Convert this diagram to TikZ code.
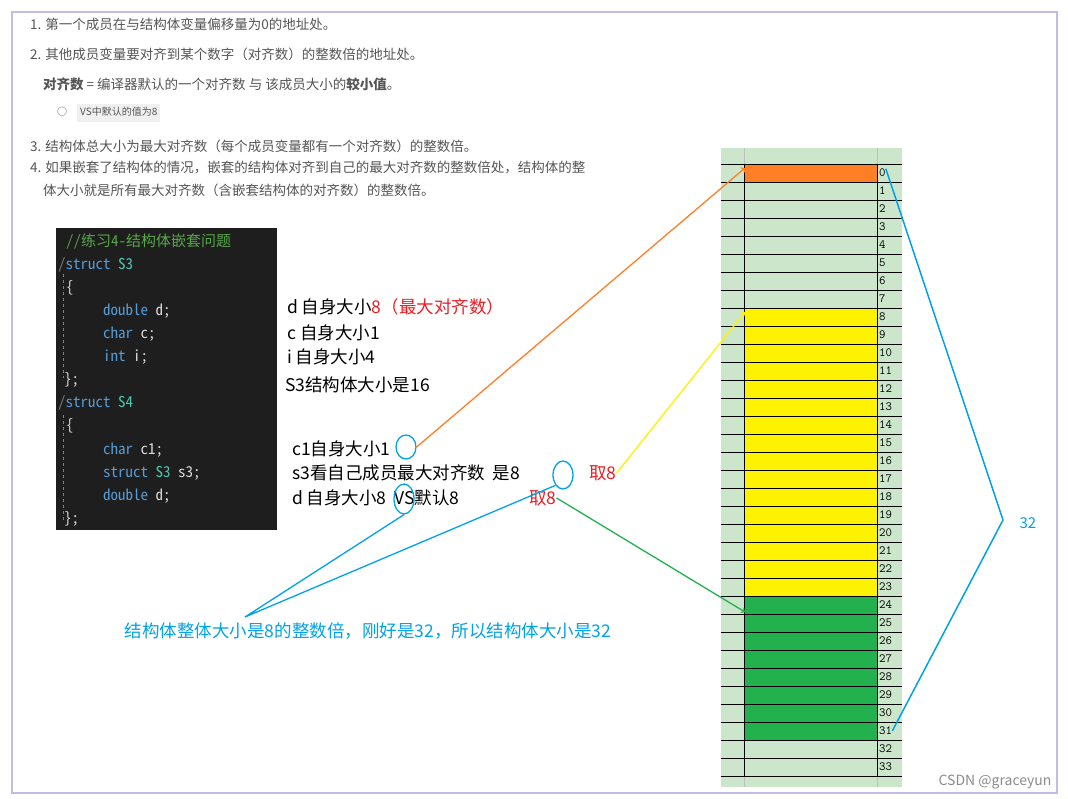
\documentclass[tikz,border=0pt]{standalone}
\usepackage{fontspec}
\setmainfont{Noto Sans CJK SC}
\newfontfamily\cjk{Noto Sans CJK SC}
\newfontfamily\cjkmono{Noto Sans Mono CJK SC}
\definecolor{gtxt}{HTML}{555555}
\definecolor{cbg}{HTML}{1E1E1E}
\definecolor{kw}{HTML}{569CD6}
\definecolor{ty}{HTML}{4EC9B0}
\definecolor{cm}{HTML}{57A64A}
\definecolor{cd}{HTML}{DCDCDC}
\definecolor{cellg}{HTML}{CCE6CC}
\definecolor{org}{HTML}{FF7F27}
\definecolor{yel}{HTML}{FFF200}
\definecolor{grn}{HTML}{22B14C}
\definecolor{blu}{HTML}{00A2E8}
\definecolor{rd}{HTML}{ED1C24}
\tikzset{
 top/.style={anchor=west,text=gtxt,font=\fontsize{13.5}{15}\selectfont\cjk,inner sep=0},
 ann/.style={anchor=west,text=black,font=\fontsize{17.5}{19}\selectfont\cjk,inner sep=0},
 code/.style={anchor=west,text=cd,font=\fontsize{15}{17}\selectfont\cjkmono,inner sep=0},
 circ/.style={draw=blu,line width=1.3pt,ellipse},
 num/.style={anchor=west,font=\fontsize{12.5}{14}\selectfont\ttfamily,inner sep=0},
}
\usetikzlibrary{shapes.geometric}
\begin{document}
\begin{tikzpicture}[x=1pt,y=-1pt]
\fill[white] (0,0) rectangle (1068,799);
\useasboundingbox (0,0) rectangle (1068,799);
\draw[color={rgb,255:red,195;green,188;blue,228},line width=2pt] (12,12) rectangle (1057,793);
% top text
\node[top] (t1) at (30,24) {1. 第一个成员在与结构体变量偏移量为0的地址处。};
\node[top] (t2) at (30,54) {2. 其他成员变量要对齐到某个数字（对齐数）的整数倍的地址处。};
\node[top] (t3) at (43,84) {\textbf{对齐数} = 编译器默认的一个对齐数 与 该成员大小的\textbf{较小值}。};
\node[top] (t4) at (57,113) {\fontsize{10}{12}\selectfont ○\quad \colorbox{black!6}{\strut VS中默认的值为8}};
\node[top] (t5) at (30,146) {3. 结构体总大小为最大对齐数（每个成员变量都有一个对齐数）的整数倍。};
\node[top] (t6) at (30,168) {4. 如果嵌套了结构体的情况，嵌套的结构体对齐到自己的最大对齐数的整数倍处，结构体的整};
\node[top] (t7) at (43,190) {体大小就是所有最大对齐数（含嵌套结构体的对齐数）的整数倍。};
% code box
\fill[cbg] (56,228) rectangle (277,530);
\draw[gray,dashed] (63,274)--(63,378) (63,415)--(63,522);
\node[code,text=cm] (c0) at (66,242) {//练习4-结构体嵌套问题};
\node[code] (c1) at (58,265) {\textcolor{gray}{/}\textcolor{kw}{struct} \textcolor{ty}{S3}};
\node[code] (c2) at (66,288) {\{};
\node[code] (c3) at (103,311) {\textcolor{kw}{double} d;};
\node[code] (c4) at (103,334) {\textcolor{kw}{char} c;};
\node[code] (c5) at (103,357) {\textcolor{kw}{int} i;};
\node[code] (c6) at (64,380) {\};};
\node[code] (c7) at (58,403) {\textcolor{gray}{/}\textcolor{kw}{struct} \textcolor{ty}{S4}};
\node[code] (c8) at (66,426) {\{};
\node[code] (c9) at (103,450) {\textcolor{kw}{char} c1;};
\node[code] (c10) at (103,473) {\textcolor{kw}{struct} \textcolor{ty}{S3} s3;};
\node[code] (c11) at (103,496) {\textcolor{kw}{double} d;};
\node[code] (c12) at (64,519) {\};};
% annotations
\node[ann] (a1) at (287,307) {d 自身大小\textcolor{rd}{8（最大对齐数）}};
\node[ann] (a2) at (287,333) {c 自身大小1};
\node[ann] (a3) at (287,357) {i 自身大小4};
\node[ann] (a4) at (285,385) {S3结构体大小是16};
\node[ann] (a5) at (292,449) {c1自身大小1};
\node[ann] (a6) at (292,473) {s3看自己成员最大对齐数\ \ 是8};
\node[ann,text=rd] (a7) at (589,473) {取8};
\node[ann] (a8) at (292,498) {d 自身大小8\ \ VS默认8};
\node[ann,text=rd] (a9) at (529,498) {取8};
\node[circ,minimum width=20pt,minimum height=24pt] (e1) at (406,447) {};
\node[circ,minimum width=20pt,minimum height=28pt] (e2) at (563,475) {};
\node[circ,minimum width=20pt,minimum height=30pt] (e3) at (404,499) {};
\node[anchor=center,text=blu,font=\fontsize{17.5}{19}\selectfont\cjk] (b) at (368,631) {结构体整体大小是8的整数倍，刚好是32，所以结构体大小是32};
\coordinate (bp) at (245,617);
% grid
\fill[cellg] (721,148) rectangle (902,787);
\fill[org] (744,164) rectangle (877,182);
\fill[yel] (744,308) rectangle (877,596);
\fill[grn] (744,596) rectangle (877,740);
\draw[black!25] (744,148)--(744,164) (877,148)--(877,164) (744,776)--(744,787) (877,776)--(877,787);
\draw[black,line width=0.8pt] (744,164)--(744,776) (877,164)--(877,776);
\foreach \i in {0,...,34} \draw[black,line width=0.8pt] (721,164+18*\i)--(902,164+18*\i);
\foreach \i in {0,...,33} \node[num] (n\i) at (879,173+18*\i) {\i};
\coordinate (r0) at (745,168);
\coordinate (r8) at (745,312);
\coordinate (r24) at (745,612);
% arrows
\draw[org,line width=1.3pt,->] (e1.east) -- (r0);
\draw[yel,line width=1.3pt,->] (a7.east) -- (r8);
\draw[grn,line width=1.3pt,->] (a9.east) -- (r24);
\draw[blu,line width=1.3pt] (e3.south) -- (bp) -- (e2.south west);
\coordinate (bt) at (1003,520);
\draw[blu,line width=1.5pt] (n0.north east) -- (bt) -- (n31.east);
\node[anchor=west,text=blu,font=\fontsize{15}{17}\selectfont\cjk] (l32) at (1016,523) {32};
\node[anchor=east,text=black!45,font=\fontsize{14}{16}\selectfont\cjk] (csdn) at (1055,782) {CSDN @graceyun};
\end{tikzpicture}
\end{document}
